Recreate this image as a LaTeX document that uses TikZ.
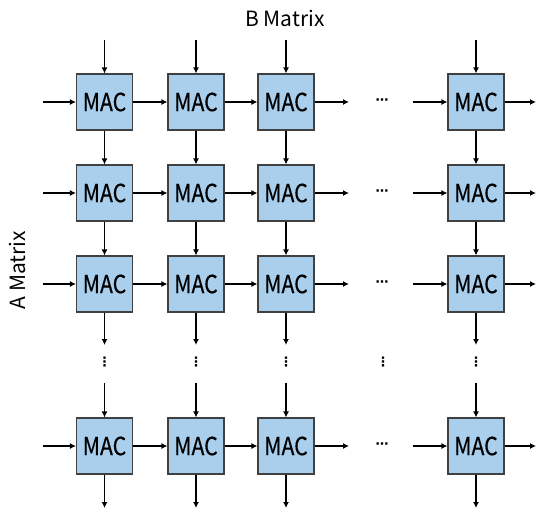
\documentclass[tikz,border=0pt]{standalone}
\usepackage{fontspec}
\newfontfamily\kfont{Noto Sans CJK KR}
\newfontfamily\kcfont[FakeStretch=0.85,FakeBold=0.4]{Noto Sans CJK KR}
\newfontfamily\dvfont{DejaVu Sans}
\usetikzlibrary{arrows.meta}
\definecolor{macfill}{RGB}{169,207,236}
\definecolor{macline}{RGB}{64,64,64}
\tikzset{
  macbox/.style={draw=macline,line width=1.1pt,fill=macfill,minimum width=56pt,minimum height=56pt,inner sep=0pt,font=\kcfont\fontsize{25}{25}\selectfont},
  flow/.style={line width=1.4pt,-{Latex[length=6pt,width=6pt]}},
  lbl/.style={font=\kfont\fontsize{21}{21}\selectfont,inner sep=0pt},
  hdots/.style={inner sep=0pt,font=\dvfont\bfseries\fontsize{13}{13}\selectfont},
}
\begin{document}
\begin{tikzpicture}[x=1pt,y=-1pt]
\useasboundingbox (0,0) rectangle (537,512);
\def\ra{102}\def\rb{193}\def\rc{284}\def\rd{446}
\def\ca{104.5}\def\cb{196}\def\cc{286}\def\cd{476}
\foreach \r/\y in {1/\ra,2/\rb,3/\rc,4/\rd}{
  \foreach \c/\x in {1/\ca,2/\cb,3/\cc,4/\cd}{
    \node[macbox] (m\r\c) at (\x,\y) {MAC};
  }
  \coordinate (in\r) at (43,\y);
  \coordinate (oa\r) at (349,\y);
  \coordinate (ob\r) at (413,\y);
  \coordinate (out\r) at (536,\y);
  \node[hdots] (hd\r) at (382,\y) {⋯};
  \draw[flow] (in\r) -- (m\r1);
  \draw[flow] (m\r1) -- (m\r2);
  \draw[flow] (m\r2) -- (m\r3);
  \draw[flow] (m\r3) -- (oa\r);
  \draw[flow] (ob\r) -- (m\r4);
  \draw[flow] (m\r4) -- (out\r);
}
\foreach \c/\x in {1/\ca,2/\cb,3/\cc,4/\cd}{
  \coordinate (top\c) at (\x,40);
  \coordinate (va\c) at (\x,345);
  \coordinate (vb\c) at (\x,383);
  \coordinate (bot\c) at (\x,508);
  \node[hdots] (vd\c) at (\x,362) {⋮};
  \draw[flow] (top\c) -- (m1\c);
  \draw[flow] (m1\c) -- (m2\c);
  \draw[flow] (m2\c) -- (m3\c);
  \draw[flow] (m3\c) -- (va\c);
  \draw[flow] (vb\c) -- (m4\c);
  \draw[flow] (m4\c) -- (bot\c);
}
\node[hdots] (vdmid) at (383,362) {⋮};
\node[lbl] (bm) at (285,18) {B Matrix};
\node[lbl,rotate=90] (am) at (17,270) {A Matrix};
\end{tikzpicture}
\end{document}
